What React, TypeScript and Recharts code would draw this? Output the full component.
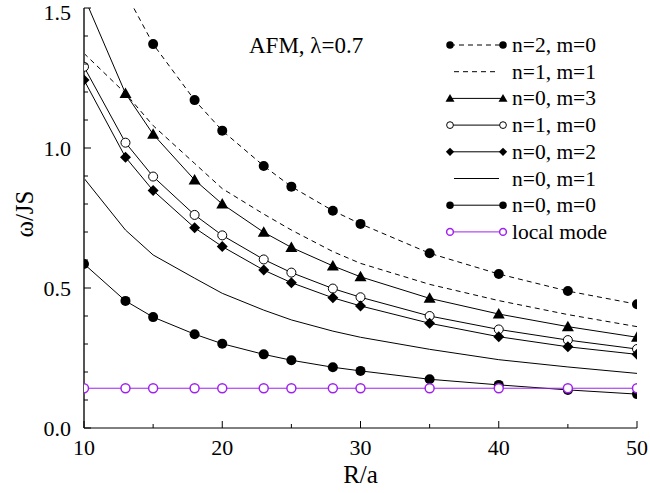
import { LineChart, Line, XAxis, YAxis, Legend, Customized } from "recharts";

const FONT = "'Liberation Serif', 'DejaVu Serif', serif";
const PURPLE = "#a020f0";

// R/a grid
const R = [10, 13, 15, 18, 20, 23, 25, 28, 30, 35, 40, 45, 50];

// omega/JS
const n2m0 = [null, 1.555, 1.371, 1.171, 1.062, 0.936, 0.862, 0.776, 0.729, 0.624, 0.55, 0.489, 0.442];
const n1m1 = [1.338, 1.195, 1.08, 0.945, 0.855, 0.764, 0.707, 0.63, 0.588, 0.513, 0.455, 0.405, 0.362];
const n0m3 = [1.54, 1.195, 1.049, 0.886, 0.8, 0.699, 0.645, 0.579, 0.54, 0.463, 0.407, 0.362, 0.324];
const n1m0 = [1.29, 1.019, 0.898, 0.761, 0.688, 0.602, 0.555, 0.498, 0.467, 0.4, 0.352, 0.314, 0.282];
const n0m2 = [1.243, 0.967, 0.848, 0.715, 0.648, 0.564, 0.519, 0.465, 0.436, 0.374, 0.326, 0.29, 0.263];
const n0m1 = [0.892, 0.707, 0.618, 0.535, 0.481, 0.421, 0.386, 0.346, 0.324, 0.281, 0.244, 0.218, 0.195];
const n0m0 = [0.586, 0.454, 0.396, 0.335, 0.301, 0.263, 0.242, 0.217, 0.204, 0.174, 0.154, 0.136, 0.121];
const localMode = [0.142, 0.142, 0.142, 0.142, 0.142, 0.142, 0.142, 0.142, 0.142, 0.142, 0.142, 0.142, 0.142];

const xTicks = [10, 15, 20, 25, 30, 35, 40, 45, 50];
const xLabels = [10, 20, 30, 40, 50];
const yTicks = [0, 0.1, 0.2, 0.3, 0.4, 0.5, 0.6, 0.7, 0.8, 0.9, 1.0, 1.1, 1.2, 1.3, 1.4, 1.5];
const yLabels = [0, 0.5, 1.0, 1.5];

const series = [
  { key: "n2m0", name: "n=2, m=0", values: n2m0, dash: "5 4", marker: "dot", color: "#000" },
  { key: "n1m1", name: "n=1, m=1", values: n1m1, dash: "5 4", marker: "none", color: "#000" },
  { key: "n0m3", name: "n=0, m=3", values: n0m3, dash: undefined, marker: "tri", color: "#000" },
  { key: "n1m0", name: "n=1, m=0", values: n1m0, dash: undefined, marker: "open", color: "#000" },
  { key: "n0m2", name: "n=0, m=2", values: n0m2, dash: undefined, marker: "diamond", color: "#000" },
  { key: "n0m1", name: "n=0, m=1", values: n0m1, dash: undefined, marker: "none", color: "#000" },
  { key: "n0m0", name: "n=0, m=0", values: n0m0, dash: undefined, marker: "dot", color: "#000" },
  { key: "local", name: "local mode", values: localMode, dash: undefined, marker: "open", color: PURPLE },
];

const data = R.map((r, i) => {
  const row: any = { R: r };
  series.forEach((s) => (row[s.key] = s.values[i]));
  return row;
});

const txt = (size: number) => ({ fontSize: size, fontFamily: FONT, fill: "#000" });

function Marker({ kind, cx, cy, color, s = 1 }: any) {
  if (kind === "dot") return <circle cx={cx} cy={cy} r={5 * s} fill={color} />;
  if (kind === "open")
    return <circle cx={cx} cy={cy} r={4.5 * s} fill="#fff" stroke={color} strokeWidth={color === "#000" ? 1 : 1.5} />;
  if (kind === "tri") {
    const a = 6 * s;
    return <polygon points={`${cx},${cy - a} ${cx - a},${cy + a * 0.75} ${cx + a},${cy + a * 0.75}`} fill={color} />;
  }
  if (kind === "diamond") {
    const a = 5.5 * s;
    return <polygon points={`${cx},${cy - a} ${cx + a},${cy} ${cx},${cy + a} ${cx - a},${cy}`} fill={color} />;
  }
  return null;
}

const dotFor = (kind: string, color: string) =>
  kind === "none"
    ? false
    : (p: any) => (
        <g key={`d-${p.index}`}>
          {p.cx != null && p.cy != null && p.value != null ? <Marker kind={kind} cx={p.cx} cy={p.cy} color={color} /> : null}
        </g>
      );

const BM = 11; // bottom tick margin
const LM = 13; // left tick margin

function BottomTick({ x, y, payload }: any) {
  const major = xLabels.includes(payload.value);
  const y0 = y - BM;
  return (
    <g>
      <line x1={x} x2={x} y1={y0} y2={y0 - (major ? 7 : 4)} stroke="#000" />
      {major && (
        <text x={x} y={y} dy="0.71em" textAnchor="middle" style={txt(22)}>
          {payload.value}
        </text>
      )}
    </g>
  );
}

function TopTick({ x, y, payload }: any) {
  const major = xLabels.includes(payload.value);
  const y0 = y + BM;
  return <line x1={x} x2={x} y1={y0} y2={y0 + (major ? 7 : 4)} stroke="#000" />;
}

function LeftTick({ x, y, payload }: any) {
  const major = yLabels.some((v) => Math.abs(v - payload.value) < 1e-6);
  const x0 = x + LM;
  // the top label sits a touch lower so it is not cut by the page edge
  const shift = payload.value > 1.45 ? 4 : 0;
  return (
    <g>
      <line x1={x0} x2={x0 + (major ? 7 : 4)} y1={y} y2={y} stroke="#000" />
      {major && (
        <text x={x} y={y + shift} dy="0.36em" textAnchor="end" style={txt(22)}>
          {payload.value.toFixed(1)}
        </text>
      )}
    </g>
  );
}

function RightTick({ x, y, payload }: any) {
  const major = yLabels.some((v) => Math.abs(v - payload.value) < 1e-6);
  const x0 = x - LM;
  return <line x1={x0} x2={x0 - (major ? 7 : 4)} y1={y} y2={y} stroke="#000" />;
}

function LegendBox() {
  return (
    <svg width={200} height={225} style={{ display: "block" }}>
      {series.map((s, i) => {
        const cy = 17 + i * 26.7;
        const bare = s.marker === "none";
        return (
          <g key={s.key}>
            <line x1={bare ? 14 : 10} x2={bare ? 59 : 63} y1={cy} y2={cy} stroke={s.color} strokeDasharray={s.dash} />
            {!bare && (
              <>
                <Marker kind={s.marker} cx={10} cy={cy} color={s.color} s={0.75} />
                <Marker kind={s.marker} cx={63} cy={cy} color={s.color} s={0.75} />
              </>
            )}
            <text x={72} y={cy + 7} style={txt(21.5)}>
              {s.name}
            </text>
          </g>
        );
      })}
    </svg>
  );
}

export default function App() {
  return (
    <div style={{ position: "absolute", left: 0, top: 0, width: 650, height: 493, background: "#fff", fontFamily: FONT }}>
      <LineChart width={650} height={493} data={data} margin={{ top: 8, right: 13, bottom: 0, left: 0 }}>
        <XAxis
          xAxisId="b"
          dataKey="R"
          type="number"
          domain={[10, 50]}
          ticks={xTicks}
          interval={0}
          height={65}
          tickSize={0}
          tickMargin={BM}
          tickLine={false}
          axisLine={{ stroke: "#000" }}
          tick={<BottomTick />}
          allowDataOverflow
          label={{
            content: ({ viewBox }: any) => (
              <text x={viewBox.x + viewBox.width / 2} y={viewBox.y + 55} textAnchor="middle" style={txt(25)}>
                R/a
              </text>
            ),
          }}
        />
        <XAxis
          xAxisId="t"
          orientation="top"
          dataKey="R"
          type="number"
          domain={[10, 50]}
          ticks={xTicks}
          interval={0}
          height={0}
          tickSize={0}
          tickMargin={BM}
          tickLine={false}
          axisLine={{ stroke: "#000" }}
          tick={<TopTick />}
          allowDataOverflow
        />
        <YAxis
          yAxisId="l"
          type="number"
          domain={[0, 1.5]}
          ticks={yTicks}
          interval={0}
          width={84}
          tickSize={0}
          tickMargin={LM}
          tickLine={false}
          axisLine={{ stroke: "#555", strokeWidth: 2 }}
          tick={<LeftTick />}
          allowDataOverflow
          label={{
            content: ({ viewBox }: any) => {
              const cx = viewBox.x + 33;
              const cy = viewBox.y + viewBox.height / 2 - 4;
              return (
                <text x={cx} y={cy} transform={`rotate(-90 ${cx} ${cy})`} textAnchor="middle" style={txt(25)}>
                  ω/JS
                </text>
              );
            },
          }}
        />
        <YAxis
          yAxisId="r"
          orientation="right"
          type="number"
          domain={[0, 1.5]}
          ticks={yTicks}
          interval={0}
          width={0}
          tickSize={0}
          tickMargin={LM}
          tickLine={false}
          axisLine={{ stroke: "#000" }}
          tick={<RightTick />}
          allowDataOverflow
        />
        <Legend
          layout="horizontal"
          verticalAlign="middle"
          align="center"
          wrapperStyle={{ left: 440, top: 28, width: 200, height: 225 }}
          content={() => <LegendBox />}
        />
        <Customized
          component={() => (
            <text x={249} y={53} style={txt(23)}>
              AFM, λ=0.7
            </text>
          )}
        />
        {series.map((s) => (
          <Line
            key={s.key}
            xAxisId="b"
            yAxisId="l"
            dataKey={s.key}
            name={s.name}
            type="linear"
            stroke={s.color}
            strokeWidth={1}
            strokeDasharray={s.dash}
            dot={dotFor(s.marker, s.color)}
            activeDot={false}
            isAnimationActive={false}
          />
        ))}
      </LineChart>
    </div>
  );
}
